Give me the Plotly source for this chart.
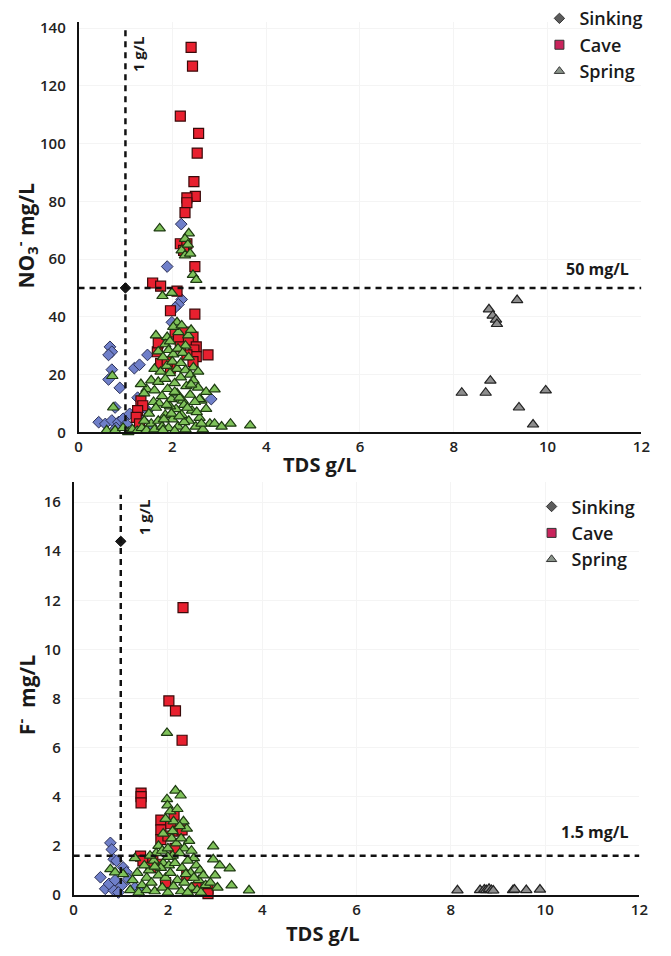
import plotly.graph_objects as go

# ---------------- DATA ----------------
# Top panel: NO3 (mg/L) vs TDS (g/L)
sink_tds_no3 = [0.43, 0.57, 0.71, 0.85, 0.95, 1.02, 0.78, 1.09, 0.67, 0.71, 0.64,
                0.71, 0.64, 0.88, 1.19, 1.30, 1.47, 1.89, 2.20, 2.13, 2.06, 1.99,
                2.19, 2.83, 1.37, 1.26, 1.47, 1.55, 0.80]
sink_no3 = [3.5, 2.9, 4.1, 3.5, 4.7, 2.9, 8.6, 6.4, 29.6, 27.9, 26.8,
            21.7, 18.3, 15.4, 22.2, 23.4, 26.8, 57.4, 46.0, 44.3, 43.2, 38.1,
            72.1, 11.5, 4.1, 12.0, 7.5, 2.0, 1.5]

cave_tds_no3 = [2.40, 2.43, 2.17, 2.56, 2.53, 2.46, 2.49, 2.31, 2.31, 2.27, 2.17, 2.31,
                2.24, 2.48, 1.58, 1.75, 2.10, 1.96, 2.48, 2.06, 2.24, 2.44, 2.34, 2.51,
                2.13, 1.68, 2.46, 2.51, 2.76, 1.75, 1.96, 2.44, 1.33, 1.37, 1.26, 1.23,
                1.30, 1.70, 1.89, 2.31, 2.17]
cave_no3 = [133.3, 126.8, 109.5, 103.5, 96.7, 86.8, 81.7, 81.2, 79.5, 76.1, 65.3, 65.3,
            63.0, 57.4, 51.7, 50.6, 48.9, 42.1, 40.9, 34.7, 34.7, 33.0, 31.3, 29.6,
            32.4, 27.9, 28.5, 26.2, 26.8, 23.9, 22.2, 24.5, 10.9, 9.2, 7.5, 5.2,
            2.9, 31.0, 24.5, 26.8, 29.6]

spring_tds_no3 = [1.73, 2.35, 2.27, 2.20, 2.27, 2.38, 2.33, 2.44, 2.51, 1.79, 1.99, 2.10,
                  1.65, 1.89, 2.13, 2.34, 2.02, 2.20, 1.85, 2.28, 1.95, 2.40,
                  1.70, 1.80, 1.92, 2.02, 2.12, 2.22, 2.35, 2.45, 1.62, 1.75, 1.88, 2.00,
                  2.10, 2.18, 2.28, 2.38, 2.55, 1.95,
                  1.45, 1.40, 1.33, 1.55, 1.62, 1.70, 1.78, 1.85, 1.90, 1.98, 2.05, 2.10,
                  2.18, 2.22, 2.30, 2.38, 2.45, 2.55, 2.62, 2.58, 2.72, 2.90, 1.60, 1.72, 2.48,
                  0.74, 0.60, 0.78, 1.06, 0.72,
                  1.15, 1.25, 1.35, 1.45, 1.55, 1.62, 1.70, 1.78, 1.85, 1.92, 2.00, 2.08,
                  2.12, 2.20, 2.28, 2.35, 2.42, 2.50, 2.58, 2.65, 2.72, 2.80, 2.90, 3.24,
                  3.66, 3.05, 1.50, 1.65, 1.95, 2.25, 1.40, 0.95, 2.62, 2.05, 1.80,
                  1.88, 2.15, 2.32, 2.05, 1.98, 2.25, 2.40, 1.82, 2.15, 2.52]
spring_no3 = [70.6, 68.9, 67.0, 63.0, 61.3, 61.9, 65.0, 54.5, 52.8, 47.2, 48.3, 38.1,
              33.6, 33.0, 34.7, 33.6, 36.5, 37.0, 30.5, 30.0, 31.5, 35.5,
              28.0, 26.0, 28.5, 27.0, 29.0, 27.5, 26.0, 22.5, 22.0, 21.0, 23.0, 24.5,
              22.0, 24.0, 21.5, 20.0, 21.0, 20.5,
              15.0, 13.5, 16.7, 18.0, 14.5, 17.5, 12.5, 18.5, 15.0, 11.5, 17.0, 13.5,
              19.0, 11.0, 16.0, 13.0, 18.0, 15.5, 11.0, 11.5, 14.0, 14.9, 10.5, 10.0, 10.5,
              8.6, 0.7, 0.7, 0.1, 19.5,
              1.0, 0.5, 1.5, 0.8, 3.0, 1.0, 4.0, 2.0, 6.0, 1.5, 4.5, 8.0,
              2.0, 6.0, 1.0, 4.0, 7.5, 2.0, 5.0, 1.0, 8.1, 3.0, 3.0, 3.0,
              2.4, 2.0, 6.5, 8.5, 9.0, 9.5, 4.0, 1.5, 3.0, 0.5, 0.8,
              9.5, 12.0, 8.5, 14.0, 6.5, 3.5, 16.5, 4.5, 5.5, 7.0]

gray_tds_no3 = [9.35, 8.75, 8.83, 8.90, 8.92, 8.78, 8.17, 8.68, 9.96, 9.39, 9.69]
gray_no3 = [45.8, 42.6, 40.4, 39.0, 37.5, 17.9, 13.7, 13.7, 14.5, 8.6, 2.7]

# Bottom panel: F (mg/L) vs TDS (g/L)
sink_tds_f = [0.78, 0.81, 0.85, 0.91, 1.05, 1.12, 0.57, 0.67, 0.85, 1.02, 1.16, 0.75,
              0.95, 1.30, 0.88, 1.40]
sink_f = [2.12, 1.85, 1.45, 1.39, 1.12, 0.92, 0.72, 0.25, 0.19, 0.39, 0.65, 0.45,
          0.10, 0.30, 0.60, 0.15]

cave_tds_f = [2.32, 2.02, 2.16, 2.30, 1.43, 1.43, 1.43, 1.85, 1.85, 1.85, 2.06, 2.13,
              2.23, 2.30, 1.42, 1.47, 1.68, 1.64, 1.78, 2.85, 2.85, 2.00, 2.15, 1.95,
              2.40, 2.60]
cave_f = [11.7, 7.9, 7.5, 6.3, 4.15, 4.0, 3.75, 3.05, 2.65, 2.25, 2.9, 3.25,
          2.6, 2.65, 1.58, 1.39, 1.45, 1.12, 1.25, 0.25, 0.05, 2.4, 1.9, 0.5,
          0.8, 0.3]

spring_tds_f = [1.98, 2.16, 2.27, 1.98, 1.99, 2.33, 2.96, 2.96, 3.31, 3.35, 3.72, 0.78,
                0.88, 1.05,
                2.05, 2.12, 1.95, 2.20, 2.40, 2.45, 1.90, 2.08, 2.18, 2.28, 2.35, 2.50,
                2.55, 1.80, 1.75, 1.88, 2.00, 2.10, 2.25, 2.42, 2.60, 2.68, 1.70, 1.60,
                1.90, 2.02, 2.15, 2.30, 2.48, 2.65, 2.75, 2.80, 1.55, 1.45, 1.65, 1.80,
                1.95, 2.05, 2.20, 2.35, 2.50, 2.62, 1.35, 1.25, 1.20, 1.38, 1.55, 1.72,
                1.88, 2.00, 2.12, 2.28, 2.42, 2.70, 2.90, 3.00, 3.10, 1.50, 1.62, 1.30,
                2.10, 2.25, 1.85, 2.38, 2.55, 2.00, 1.72, 3.05]
spring_f = [6.6, 4.25, 4.05, 3.9, 3.65, 3.0, 1.98, 1.45, 1.08, 0.39, 0.19, 1.05,
            0.92, 0.85,
            3.4, 3.0, 3.1, 3.5, 2.7, 2.2, 2.5, 2.3, 2.1, 2.3, 1.9, 1.8,
            1.5, 2.0, 1.7, 1.8, 1.9, 1.6, 1.7, 1.4, 1.2, 1.0, 1.4, 1.0,
            1.3, 1.2, 1.3, 1.1, 0.9, 0.6, 0.8, 0.4, 0.7, 0.4, 0.5, 0.8,
            0.7, 0.9, 0.6, 0.5, 0.3, 0.2, 0.9, 0.6, 0.2, 0.1, 0.2, 0.15,
            0.3, 0.1, 0.35, 0.15, 0.1, 0.1, 0.5, 0.8, 1.2, 1.2, 1.6, 1.5,
            2.6, 2.8, 1.1, 0.85, 0.7, 1.55, 1.15, 0.3]

gray_tds_f = [8.14, 8.62, 8.71, 8.75, 8.81, 8.86, 8.90, 9.32, 9.35, 9.60, 9.89]
gray_f = [0.19, 0.20, 0.22, 0.20, 0.25, 0.20, 0.18, 0.20, 0.22, 0.20, 0.22]

# Highlighted (black) point on each panel
mark_tds = [1.0]
mark_no3 = [50.0]
mark_f = [14.4]

legend_names = ["Sinking", "Cave", "Spring"]
x_ticks = [0, 2, 4, 6, 8, 10, 12]
no3_ticks = [0, 20, 40, 60, 80, 100, 120, 140]
f_ticks = [0, 2, 4, 6, 8, 10, 12, 14, 16]
tds_limit = 1.0
no3_limit = 50.0
f_limit = 1.6

# ---------------- STYLE ----------------
W, H = 671, 956
FONT = "Open Sans"
C_BLUE = "#6f7fc9"
C_RED = "#e8202f"
C_GREEN = "#7fc25a"
C_GRAY = "#8e8e8e"


def py(v):
    return 1 - v / H


def px(v):
    return v / W


fig = go.Figure()


def add_panel(xa, ya, sx, sy, cx, cy, gx, gy, spx, spy, bx, by):
    fig.add_trace(go.Scatter(x=sx, y=sy, mode="markers", name="Sinking", showlegend=False,
                             xaxis=xa, yaxis=ya, cliponaxis=False,
                             marker=dict(symbol="diamond", size=9, color=C_BLUE,
                                         line=dict(color="#2a2f55", width=1))))
    fig.add_trace(go.Scatter(x=cx, y=cy, mode="markers", name="Cave", showlegend=False,
                             xaxis=xa, yaxis=ya, cliponaxis=False,
                             marker=dict(symbol="square", size=10, color=C_RED,
                                         line=dict(color="#3a0a0a", width=1.2))))
    fig.add_trace(go.Scatter(x=spx, y=spy, mode="markers", name="Spring", showlegend=False,
                             xaxis=xa, yaxis=ya, cliponaxis=False,
                             marker=dict(symbol="triangle-up", size=10, color=C_GREEN,
                                         line=dict(color="#1e3a12", width=1.2))))
    fig.add_trace(go.Scatter(x=gx, y=gy, mode="markers", name="Spring", showlegend=False,
                             xaxis=xa, yaxis=ya, cliponaxis=False,
                             marker=dict(symbol="triangle-up", size=10, color=C_GRAY,
                                         line=dict(color="#222222", width=1.2))))
    fig.add_trace(go.Scatter(x=bx, y=by, mode="markers", name="Sinking", showlegend=False,
                             xaxis=xa, yaxis=ya, cliponaxis=False,
                             marker=dict(symbol="diamond", size=8, color="#1a1a1a",
                                         line=dict(color="#000000", width=1))))


add_panel("x", "y", sink_tds_no3, sink_no3, cave_tds_no3, cave_no3, gray_tds_no3, gray_no3,
          spring_tds_no3, spring_no3, mark_tds, mark_no3)
add_panel("x2", "y2", sink_tds_f, sink_f, cave_tds_f, cave_f, gray_tds_f, gray_f,
          spring_tds_f, spring_f, mark_tds, mark_f)

# legend-only entries
leg_styles = [
    dict(symbol="diamond", size=8, color="#5c5c5c", line=dict(color="#333", width=1)),
    dict(symbol="square", size=9, color="#c9245c", line=dict(color="#333", width=1)),
    dict(symbol="triangle-up", size=9, color="#8a948a", line=dict(color="#333", width=1)),
]
for leg, xa, ya in [("legend", "x", "y"), ("legend2", "x2", "y2")]:
    for name, st in zip(legend_names, leg_styles):
        fig.add_trace(go.Scatter(x=[None], y=[None], mode="markers", name=name,
                                 xaxis=xa, yaxis=ya, legend=leg, marker=st))

axis_common = dict(showline=True, linecolor="#111111", linewidth=1.5, zeroline=False,
                   showgrid=True, gridcolor="#f4f4f4", gridwidth=1, ticks="",
                   tickfont=dict(family=FONT, size=15, color="#222222", weight=600),
                   fixedrange=True)

leg_font = dict(family=FONT, size=18, color="#1a1a1a", weight=600)

fig.update_layout(
    width=W, height=H, margin=dict(l=0, r=0, t=0, b=0),
    paper_bgcolor="white", plot_bgcolor="white",
    font=dict(family=FONT, color="#1a1a1a"),
    xaxis=dict(domain=[px(76), px(650)], range=[0, 12], tickvals=x_ticks,
               anchor="y", ticklabelstandoff=0, **axis_common),
    yaxis=dict(domain=[py(432), py(14.5)], range=[0, 142], tickvals=no3_ticks,
               anchor="x", ticklabelstandoff=8, **axis_common),
    xaxis2=dict(domain=[px(71), px(648)], range=[0, 12], tickvals=x_ticks,
                anchor="y2", ticklabelstandoff=0, **axis_common),
    yaxis2=dict(domain=[py(903), py(483)], range=[0, 16.8], tickvals=f_ticks,
                anchor="x2", ticklabelstandoff=8, **axis_common),
    legend=dict(x=px(546), y=py(-8), xanchor="left", yanchor="top",
                bgcolor="rgba(255,255,255,0)", itemwidth=30,
                font=leg_font, tracegroupgap=0),
    legend2=dict(x=px(538), y=py(489), xanchor="left", yanchor="top",
                 bgcolor="rgba(255,255,255,0)", itemwidth=30,
                 font=leg_font, tracegroupgap=0),
)

dash = "6px,5px"
shapes = [
    dict(type="line", xref="x", yref="y", x0=tds_limit, x1=tds_limit, y0=0, y1=141,
         line=dict(color="#111", width=2.5, dash=dash)),
    dict(type="line", xref="x", yref="y", x0=0, x1=12, y0=no3_limit, y1=no3_limit,
         line=dict(color="#111", width=2.5, dash=dash)),
    dict(type="line", xref="x2", yref="y2", x0=tds_limit, x1=tds_limit, y0=0, y1=16.3,
         line=dict(color="#111", width=2.5, dash=dash)),
    dict(type="line", xref="x2", yref="y2", x0=0, x1=12, y0=f_limit, y1=f_limit,
         line=dict(color="#111", width=2.5, dash=dash)),
]
fig.update_layout(shapes=shapes)

bold = dict(family=FONT, color="#1a1a1a", weight=700)
C = dict(xanchor="center", yanchor="middle", showarrow=False)
annotations = [
    dict(text="1 g/L", xref="x", yref="y", x=1.27, y=131, textangle=-90,
         font=dict(size=15, **bold), **C),
    dict(text="50 mg/L", xref="paper", yref="y", x=px(605), y=56.5,
         font=dict(size=16, **bold), **C),
    dict(text="1 g/L", xref="x2", yref="y2", x=1.48, y=15.4, textangle=-90,
         font=dict(size=15, **bold), **C),
    dict(text="1.5 mg/L", xref="paper", yref="y2", x=px(602), y=2.55,
         font=dict(size=16, **bold), **C),
    dict(text="TDS g/L", xref="paper", yref="paper", x=px(322), y=py(465),
         font=dict(size=20, **bold), **C),
    dict(text="TDS g/L", xref="paper", yref="paper", x=px(325), y=py(942),
         font=dict(size=20, **bold), **C),
    dict(text="NO<sub>3</sub><sup>-</sup> mg/L", xref="paper", yref="paper", x=px(22), y=py(232),
         textangle=-90, font=dict(size=21, **bold), **C),
    dict(text="F<sup>-</sup>  mg/L", xref="paper", yref="paper", x=px(22), y=py(700),
         textangle=-90, font=dict(size=21, **bold), **C),
]
fig.update_layout(annotations=annotations)

fig.write_html("out.html")
